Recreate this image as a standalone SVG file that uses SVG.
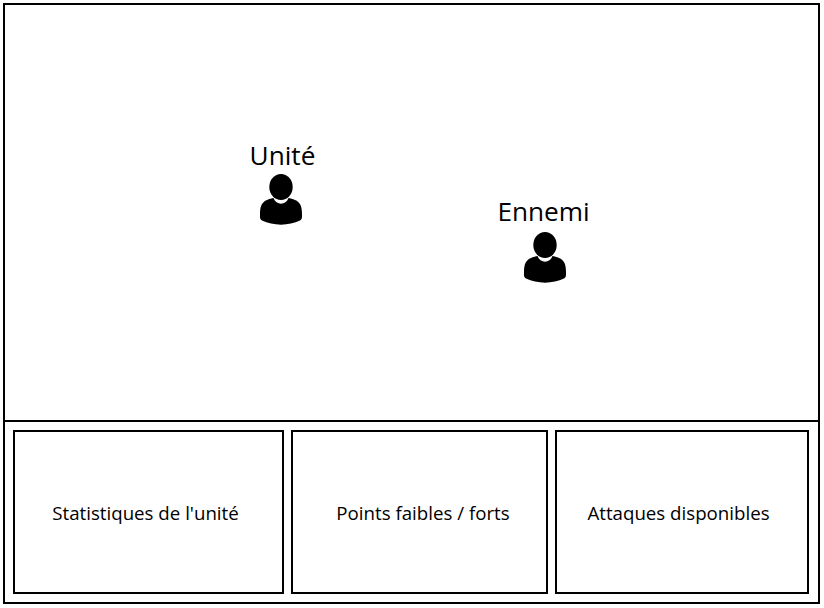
<svg xmlns="http://www.w3.org/2000/svg" width="824" height="608" viewBox="0 0 824 608">
<style>
.b{fill:#fff;stroke:#000;stroke-width:2}
.t{font-family:"Open Sans","Noto Sans",sans-serif;fill:#000;text-anchor:middle}
.s{font-size:18.700px}
.l{font-size:26.200px}
</style>
<defs>
<g id="person">
<path d="M-21 40C-21 32-19 28-14 26C-12 25-9 24-7.500 24C-5 31.500 5 31.500 7.500 24C9 24 12 25 14 26C19 28 21 32 21 40C21 45 21 45 19 46.500C8 52-8 52-19 46.500C-21 45-21 45-21 40Z" fill="#000"/>
<ellipse cx="0" cy="13" rx="11.700" ry="13" fill="#000"/>
</g>
</defs>
<rect width="824" height="608" fill="#fff"/>
<g id="frame"><rect class="b" x="4" y="4" width="815" height="599"/><path d="M4 421H819" fill="none" stroke="#000" stroke-width="2"/></g>
<g id="stats"><rect class="b" x="14" y="431" width="269" height="162"/><text class="t s" x="145.500" y="519.500">Statistiques de l'unité</text></g>
<g id="points"><rect class="b" x="292" y="431" width="255" height="162"/><text class="t s" x="423" y="519.500">Points faibles / forts</text></g>
<g id="attaques"><rect class="b" x="556" y="431" width="252" height="162"/><text class="t s" x="678.500" y="519.500">Attaques disponibles</text></g>
<g id="unite"><text class="t l" x="282.500" y="164.500">Unité</text><use href="#person" x="281" y="174"/></g>
<g id="ennemi"><text class="t l" x="543.500" y="220.500">Ennemi</text><use href="#person" x="545" y="232"/></g>
<g id="connectors"/>
</svg>
